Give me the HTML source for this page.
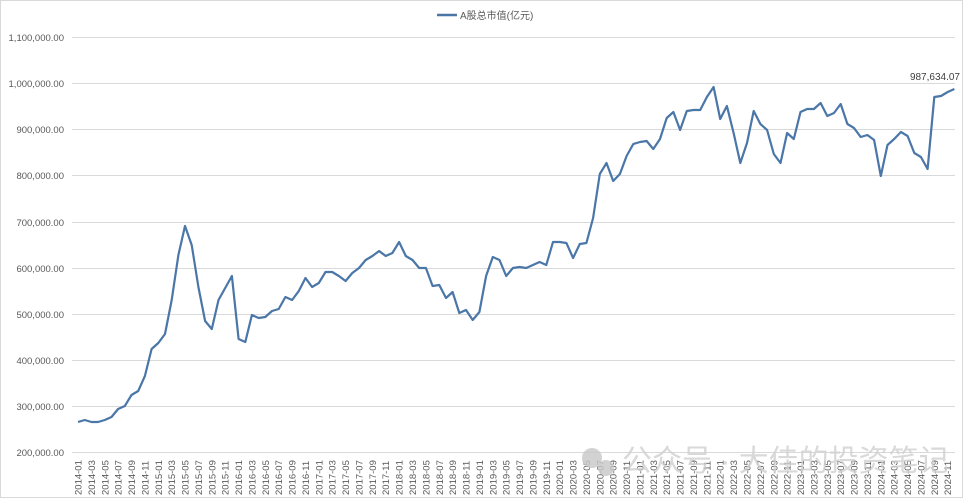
<!DOCTYPE html>
<html><head><meta charset="utf-8"><style>
html,body{margin:0;padding:0;background:#fff;}
svg{display:block;}
text{font-family:"Liberation Sans","Noto Sans CJK SC",sans-serif;}
</style></head><body>
<svg width="964" height="500" viewBox="0 0 964 500" xmlns="http://www.w3.org/2000/svg">
<rect x="0.5" y="0.5" width="962" height="497" fill="#fff" stroke="#d9d9d9"/>
<g stroke="#d9d9d9" stroke-width="1">
<line x1="72" x2="955" y1="37.5" y2="37.5"/>
<line x1="72" x2="955" y1="83.5" y2="83.5"/>
<line x1="72" x2="955" y1="129.5" y2="129.5"/>
<line x1="72" x2="955" y1="175.5" y2="175.5"/>
<line x1="72" x2="955" y1="222.5" y2="222.5"/>
<line x1="72" x2="955" y1="268.5" y2="268.5"/>
<line x1="72" x2="955" y1="314.5" y2="314.5"/>
<line x1="72" x2="955" y1="360.5" y2="360.5"/>
<line x1="72" x2="955" y1="406.5" y2="406.5"/>
<line x1="72" x2="955" y1="452.5" y2="452.5"/>
</g>
<g font-size="9.5" fill="#595959" text-anchor="end">
<text x="64" y="41">1,100,000.00</text>
<text x="64" y="87">1,000,000.00</text>
<text x="64" y="133">900,000.00</text>
<text x="64" y="179">800,000.00</text>
<text x="64" y="226">700,000.00</text>
<text x="64" y="272">600,000.00</text>
<text x="64" y="318">500,000.00</text>
<text x="64" y="364">400,000.00</text>
<text x="64" y="410">300,000.00</text>
<text x="64" y="456">200,000.00</text>
</g>
<line x1="437" x2="457" y1="15" y2="15" stroke="#4a76a8" stroke-width="2.5"/>
<text x="460" y="19" font-size="10" fill="#595959">A股总市值(亿元)</text>
<g font-size="9.5" fill="#595959" id="xl"></g>
<g fill="#c8c8c8" opacity="0.8">
<circle cx="592" cy="458" r="10"/><circle cx="606" cy="468" r="8"/>
</g>
<text x="622" y="471" font-size="30" fill="#cfcfcf" fill-opacity="0.8">公众号 · 大佳的投资笔记</text>
<polyline id="ln" fill="none" stroke="#4a76a8" stroke-width="2.2" stroke-linejoin="round"/>
<text x="960" y="80" font-size="10" fill="#404040" text-anchor="end">987,634.07</text>
</svg>
<script>
var ys=[422,420,422,422,420,417,409,406,395,391,376,349,343,334,300,255,226,245,287,321,329,300,288,276,339,342,315,318,317,311,309,297,300,291,278,287,283,272,272,276,281,273,268,260,256,251,256,253,242,256,260,268,268,286,285,298,292,313,310,320,312,276,257,260,276,268,267,268,265,262,265,242,242,243,258,244,243,218,174,163,181,174,156,144,142,141,149,139,118,112,130,111,110,110,97,87,119,106,133,163,143,111,124,130,154,163,133,139,112,109,109,103,116,113,104,124,128,137,135,140,176,145,139,132,136,153,157,169,97,96,92,89];
var p=[];for(var i=0;i<ys.length;i++)p.push((78+6.69*i).toFixed(1)+","+ys[i]);
document.getElementById("ln").setAttribute("points",p.join(" "));
var g=document.getElementById("xl"),s="";
for(var i=0;i<131;i+=2){var y=2014+Math.floor(i/12),m=i%12+1;var x=78+6.69*i+3.5;
s+='<text transform="translate('+x.toFixed(1)+',495) rotate(-90)">'+y+'-'+(m<10?'0':'')+m+'</text>';}
g.innerHTML=s;
</script>
</body></html>
